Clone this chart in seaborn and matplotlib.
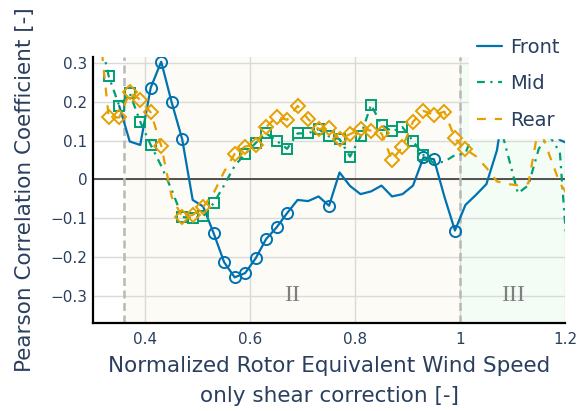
import numpy as np
import pandas as pd
import matplotlib
matplotlib.use("Agg")
import matplotlib.pyplot as plt
from matplotlib.lines import Line2D
import seaborn as sns

# wind speed bins (normalized REWS, shear correction only)
wind_speed = [0.31, 0.33, 0.35, 0.37, 0.39, 0.41, 0.43, 0.45, 0.47, 0.49,
              0.51, 0.53, 0.55, 0.57, 0.59, 0.61, 0.63, 0.65, 0.67, 0.69,
              0.71, 0.73, 0.75, 0.77, 0.79, 0.81, 0.83, 0.85, 0.87, 0.89,
              0.91, 0.93, 0.95, 0.97, 0.99, 1.01, 1.03, 1.05, 1.07, 1.09,
              1.11, 1.13, 1.15, 1.17, 1.19, 1.21]

# Pearson correlation per bin
front = [np.nan, np.nan, 0.190, 0.098, 0.089, 0.237, 0.304, 0.199, 0.104, -0.053,
         -0.070, -0.139, -0.214, -0.253, -0.242, -0.204, -0.154, -0.124, -0.087, -0.053,
         -0.056, -0.044, -0.068, 0.018, -0.017, -0.038, -0.031, -0.016, -0.044, -0.038,
         -0.016, 0.057, 0.052, -0.045, -0.132, -0.066, -0.040, -0.012, 0.075, 0.250,
         0.280, 0.250, 0.220, 0.170, 0.102, 0.090]
mid = [0.390, 0.266, 0.190, 0.223, 0.149, 0.089, 0.035, -0.027, -0.097, -0.100,
       -0.095, -0.061, -0.015, 0.035, 0.066, 0.094, 0.119, 0.100, 0.079, 0.119,
       0.119, 0.130, 0.111, 0.104, 0.059, 0.111, 0.193, 0.141, 0.124, 0.135,
       0.099, 0.063, 0.042, 0.046, 0.063, 0.067, 0.140, 0.220, 0.170, 0.068,
       -0.036, -0.015, 0.080, 0.113, 0.070, -0.300]
rear = [0.420, 0.160, 0.160, 0.225, 0.206, 0.173, 0.087, -0.045, -0.097, -0.092,
        -0.071, -0.035, 0.020, 0.066, 0.085, 0.089, 0.135, 0.162, 0.154, 0.190,
        0.156, 0.130, 0.132, 0.104, 0.117, 0.130, 0.126, 0.119, 0.050, 0.084,
        0.149, 0.177, 0.167, 0.175, 0.106, 0.078, 0.060, 0.030, -0.005, -0.012,
        -0.015, -0.010, 0.140, 0.063, -0.010, -0.050]

# 1 = significant bin (drawn with marker)
front_sig = [0, 0, 0, 0, 0, 1, 1, 1, 1, 0,
             0, 1, 1, 1, 1, 1, 1, 1, 1, 0,
             0, 0, 1, 0, 0, 0, 0, 0, 0, 0,
             0, 1, 1, 0, 1, 0, 0, 0, 0, 0,
             0, 0, 0, 0, 0, 0]
mid_sig = [0, 1, 1, 1, 1, 1, 0, 0, 1, 1,
           1, 1, 0, 0, 1, 1, 1, 1, 1, 1,
           1, 1, 1, 1, 1, 1, 1, 1, 1, 1,
           1, 1, 0, 0, 0, 0, 0, 0, 0, 0,
           0, 0, 0, 0, 0, 0]
rear_sig = [0, 1, 1, 1, 1, 1, 1, 0, 1, 1,
            1, 0, 0, 1, 1, 1, 1, 1, 1, 1,
            1, 1, 1, 1, 1, 1, 1, 1, 1, 1,
            1, 1, 1, 1, 1, 1, 0, 0, 0, 0,
            0, 0, 0, 0, 0, 0]

series_names = ["Front", "Mid", "Rear"]
region_edges = [0.36, 1.0, 1.2]
region_labels = ["II", "III"]

colors = {"Front": "#0072B2", "Mid": "#009E73", "Rear": "#E69F00"}
styles = {"Front": "-", "Mid": (0, (3.5, 2.5, 1, 2.5)), "Rear": (0, (4, 4))}
markers = {"Front": "o", "Mid": "s", "Rear": "D"}
msizes = {"Front": 8, "Mid": 7.5, "Rear": 7}

sns.set_style("white")
plt.rcParams["font.family"] = ["DejaVu Sans"]
text_col = "#2a3f5f"

fig, ax = plt.subplots(figsize=(5.85, 4.11), dpi=100)
fig.subplots_adjust(left=0.159, right=0.966, bottom=0.215, top=0.862)

# operating regions
ax.axvspan(region_edges[0], region_edges[1], color="#fdfbf5", zorder=0, lw=0)
ax.axvspan(region_edges[1], region_edges[2], color="#f3fcf5", zorder=0, lw=0)

ax.set_axisbelow(True)
ax.grid(True, color="#dadada", lw=1.0)
ax.axhline(0, color="#444444", lw=1.3, zorder=1)
for xv in region_edges[:2]:
    ax.axvline(xv, color="#b8b8b8", lw=1.8, ls=(0, (3.2, 1.8)), zorder=1.5)

for name, yv, sig in zip(series_names, [front, mid, rear], [front_sig, mid_sig, rear_sig]):
    df = pd.DataFrame({"x": wind_speed, "y": yv, "sig": sig}).dropna()
    c = colors[name]
    sns.lineplot(data=df, x="x", y="y", ax=ax, color=c, lw=1.6,
                 linestyle=styles[name], estimator=None, sort=False,
                 marker=markers[name], markevery=list(df["sig"].astype(bool)),
                 ms=msizes[name], mfc="none", mec=c, mew=1.4, zorder=3)

for lab, lo, hi in zip(region_labels, region_edges[:-1], region_edges[1:]):
    ax.text((lo + hi) / 2, -0.3, lab, ha="center", va="center",
            fontsize=17, color="#7f7f7f", family="Liberation Serif")

ax.set_xlim(0.3, 1.2)
ax.set_ylim(-0.37, 0.317)
ax.set_xticks([0.4, 0.6, 0.8, 1.0, 1.2])
ax.set_xticklabels(["0.4", "0.6", "0.8", "1", "1.2"])
ax.set_yticks([-0.3, -0.2, -0.1, 0, 0.1, 0.2, 0.3])
ax.set_yticklabels(["\u22120.3", "\u22120.2", "\u22120.1", "0", "0.1", "0.2", "0.3"])
ax.tick_params(axis="both", length=0, labelsize=11, colors=text_col)
ax.tick_params(axis="x", pad=7)
ax.tick_params(axis="y", pad=4)

for side in ["top", "right"]:
    ax.spines[side].set_visible(False)
for side in ["left", "bottom"]:
    ax.spines[side].set_color("black")
    ax.spines[side].set_linewidth(1.6)

ax.set_xlabel("Normalized Rotor Equivalent Wind Speed\nonly shear correction [-]",
              fontsize=15.5, color=text_col, linespacing=1.65, labelpad=6)
ax.set_ylabel("Pearson Correlation Coefficient [-]", fontsize=15.5, color=text_col, labelpad=11)

handles = [Line2D([], [], color=colors[n], lw=1.6, linestyle=styles[n]) for n in series_names]
leg = fig.legend(handles, series_names, loc="upper left", bbox_to_anchor=(469 / 585, 1 - 30 / 411),
                 frameon=True, fontsize=14, handlelength=1.3, labelspacing=0.9,
                 borderpad=0.4, borderaxespad=0, handletextpad=0.4, fancybox=False)
leg.get_frame().set_facecolor("white")
leg.get_frame().set_edgecolor("white")
leg.get_frame().set_alpha(1.0)
for t in leg.get_texts():
    t.set_color(text_col)

fig.savefig("out.png", dpi=100)
